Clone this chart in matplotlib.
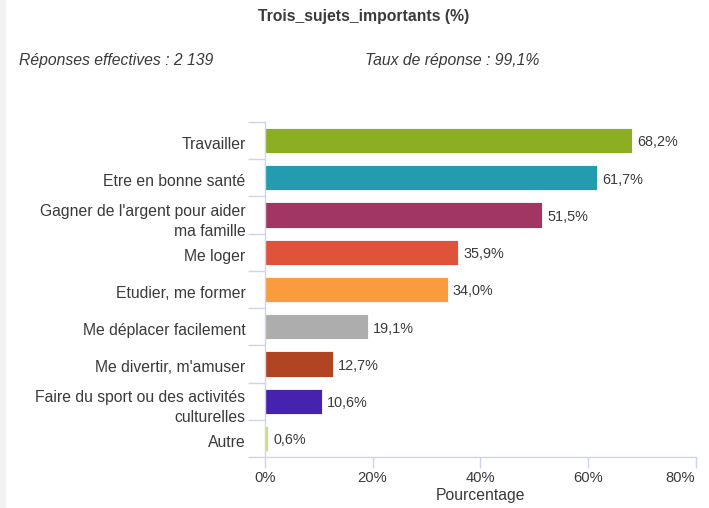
import numpy as np
import matplotlib.pyplot as plt
import matplotlib.ticker as mticker

plt.rcParams['font.family'] = ['Liberation Sans', 'DejaVu Sans']

categories = ["Travailler", "Etre en bonne santé",
              "Gagner de l'argent pour aider\nma famille", "Me loger",
              "Etudier, me former", "Me déplacer facilement",
              "Me divertir, m'amuser",
              "Faire du sport ou des activités\nculturelles", "Autre"]
values = [68.2, 61.7, 51.5, 35.9, 34.0, 19.1, 12.7, 10.6, 0.6]
colors = ["#8bae22", "#229cae", "#a13663", "#e0533b", "#f89c3d",
          "#adadad", "#b04321", "#4522b0", "#c8e06c"]
xticks = [0, 20, 40, 60, 80]

axis_col = "#ccd6eb"
txt = "#3a3a3a"
fs = 11.3

fig = plt.figure(figsize=(7.09, 5.08), dpi=100)
ax = fig.add_axes([265/709, 1 - 457/508, (695.5 - 265)/709, (457 - 122)/508])

y = np.arange(len(categories))
ax.barh(y, values, height=0.68, color=colors, edgecolor="white", linewidth=0.6)
for yi, v in zip(y, values):
    ax.text(v + 0.9, yi + 0.05, f"{v:.1f}%".replace(".", ","), va="center", ha="left",
            fontsize=10.4, color=txt)

ax.set_xlim(0, 80)
ax.set_ylim(len(categories) - 0.5, -0.5)
ax.set_xticks(xticks)
ax.set_xticklabels([f"{t}%" for t in xticks], fontsize=10.6, color=txt)
ax.get_xticklabels()[-1].set_horizontalalignment("right")
ax.set_yticks(y + 0.06)
ax.set_yticklabels(categories, fontsize=fs, color=txt, linespacing=1.45)
ax.yaxis.set_minor_locator(mticker.FixedLocator(np.arange(-0.5, len(categories), 1)))
ax.tick_params(axis="y", which="major", length=0, pad=14)
ax.tick_params(axis="y", which="minor", length=12, color=axis_col, width=1)
ax.tick_params(axis="x", length=8, color=axis_col, width=1, pad=2)
ax.set_xlabel("Pourcentage", fontsize=fs, color=txt, labelpad=2)

for s in ["top", "right"]:
    ax.spines[s].set_visible(False)
for s in ["left", "bottom"]:
    ax.spines[s].set_color(axis_col)
    ax.spines[s].set_linewidth(1)

fig.text(364/709, 1 - 16/508, "Trois_sujets_importants (%)", ha="center", va="center",
         fontsize=fs, fontweight="bold", color=txt)
fig.text(19/709, 1 - 61/508, "Réponses effectives : 2 139", ha="left", va="center",
         fontsize=fs, style="italic", color=txt)
fig.text(365/709, 1 - 61/508, "Taux de réponse : 99,1%", ha="left", va="center",
         fontsize=fs, style="italic", color=txt)

# light strip on the left edge
fig.patches.append(plt.Rectangle((0, 0), 5/709, 1, transform=fig.transFigure,
                                 color="#f2f2f2", zorder=0))

fig.savefig("out.png", dpi=100)
